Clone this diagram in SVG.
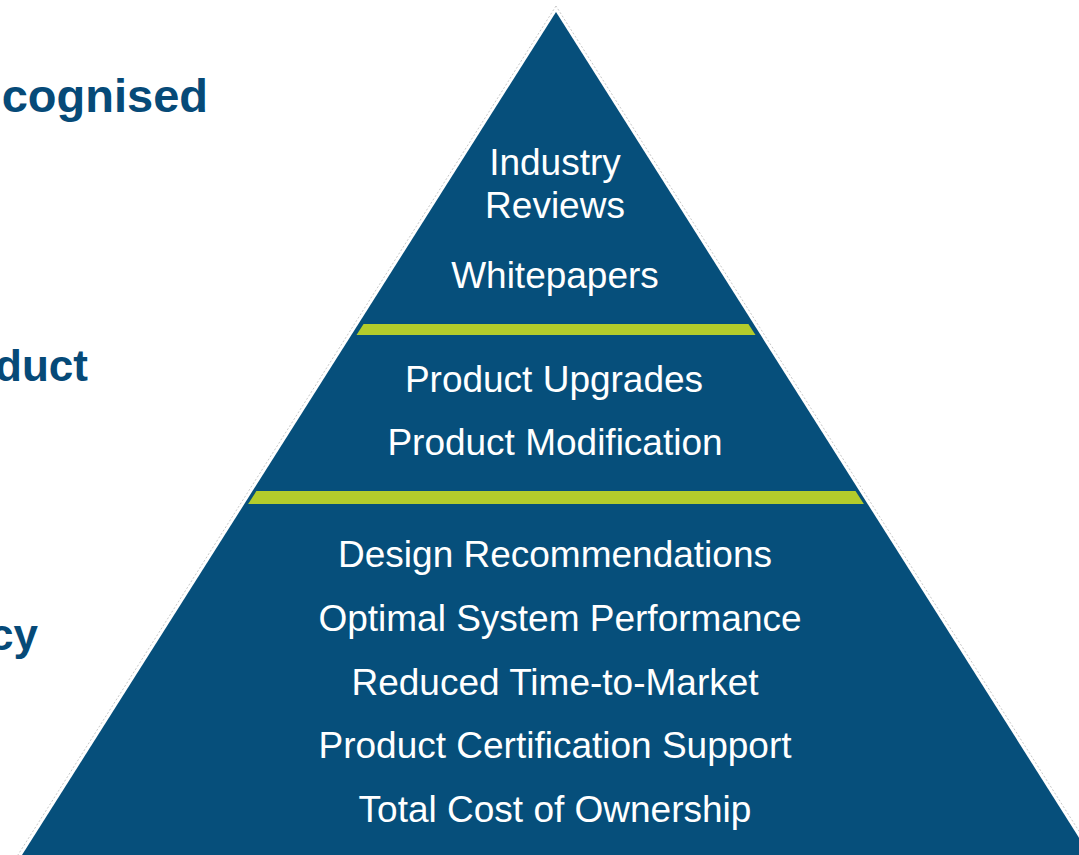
<svg xmlns="http://www.w3.org/2000/svg" width="1079" height="855" viewBox="0 0 1079 855">
<style>
.t{font-family:"Liberation Sans",Arial,sans-serif;font-size:37px;fill:#ffffff;text-anchor:middle}
.s{font-family:"Liberation Sans",Arial,sans-serif;font-size:44px;font-weight:bold;fill:#064a78;text-anchor:end}
.band{fill:#b3cc2b}
</style>
<defs>
<clipPath id="tri"><polygon points="556,24 23,855 1089,855"/></clipPath>
</defs>
<rect width="1079" height="855" fill="#ffffff"/>
<g id="pyramid">
<polygon points="556,6 16,858 1096,858" fill="none" stroke="#c8c8c8" stroke-width="1" stroke-dasharray="2,2"/>
<polygon points="556,12 22,855 1090,855" fill="#064f7b"/>
<g clip-path="url(#tri)">
<rect class="band" x="0" y="324" width="1079" height="11"/>
<rect class="band" x="0" y="491" width="1079" height="13"/>
</g>
</g>
<g id="tier-top">
<text class="t" x="555" y="175">Industry</text>
<text class="t" x="555" y="218">Reviews</text>
<text class="t" x="555" y="288">Whitepapers</text>
</g>
<g id="tier-middle">
<text class="t" x="554" y="392">Product Upgrades</text>
<text class="t" x="555" y="455">Product Modification</text>
</g>
<g id="tier-bottom">
<text class="t" x="555" y="567">Design Recommendations</text>
<text class="t" x="560" y="631">Optimal System Performance</text>
<text class="t" x="555" y="695">Reduced Time-to-Market</text>
<text class="t" x="555" y="758">Product Certification Support</text>
<text class="t" x="555" y="822">Total Cost of Ownership</text>
</g>
<g id="side-labels">
<text class="s" x="208" y="112" style="font-size:47px">cognised</text>
<text class="s" x="88" y="381">duct</text>
<text class="s" x="38" y="650">cy</text>
</g>
<g id="connectors"/>
</svg>
